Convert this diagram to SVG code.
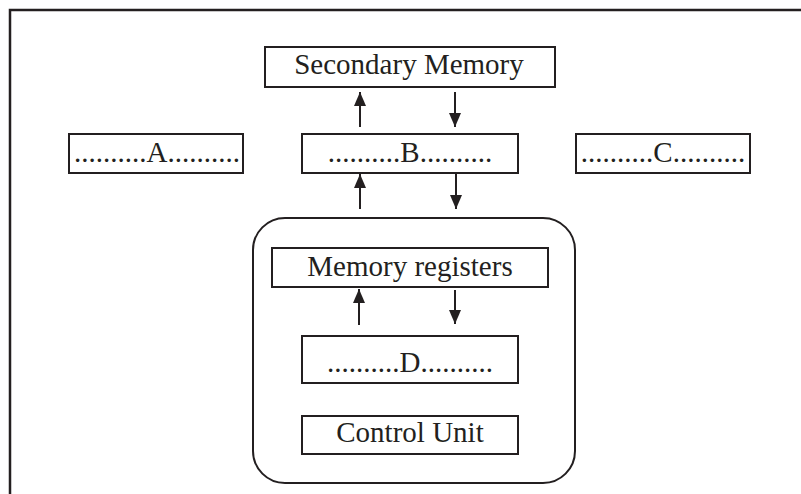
<svg xmlns="http://www.w3.org/2000/svg" width="801" height="494" viewBox="0 0 801 494">
<style>
.box{fill:#fff;stroke:#231f20;stroke-width:2}
.t{font-family:"Liberation Serif","Times New Roman",serif;font-size:29px;fill:#231f20;text-anchor:middle}
.c{stroke:#231f20;stroke-width:2;fill:none;marker-end:url(#ah)}
</style>
<defs>
<marker id="ah" markerUnits="userSpaceOnUse" markerWidth="14" markerHeight="12" viewBox="0 0 14 12" refX="14" refY="6" orient="auto">
<path d="M0,0 L14,6 L0,12 Z" fill="#231f20"/>
</marker>
</defs>
<rect width="801" height="494" fill="#fff"/>
<g id="frame">
<path d="M10,494 V10 H801" fill="none" stroke="#231f20" stroke-width="2.5"/>
</g>
<g id="cpu">
<rect class="box" x="253" y="218" width="322" height="265" rx="32" ry="32"/>
</g>
<g id="secondary">
<rect class="box" x="265" y="47" width="290" height="40"/>
<text class="t" x="409" y="74">Secondary Memory</text>
</g>
<g id="a">
<rect class="box" x="69" y="134" width="174" height="39"/>
<text class="t" x="157" y="162">..........A..........</text>
</g>
<g id="b">
<rect class="box" x="302" y="134" width="216" height="39"/>
<text class="t" x="410" y="162">..........B..........</text>
</g>
<g id="c">
<rect class="box" x="576" y="134" width="174" height="39"/>
<text class="t" x="663" y="162">..........C..........</text>
</g>
<g id="registers">
<rect class="box" x="272" y="248" width="276" height="39"/>
<text class="t" x="410" y="276">Memory registers</text>
</g>
<g id="d">
<rect class="box" x="302" y="336" width="216" height="47"/>
<text class="t" x="410" y="372">..........D..........</text>
</g>
<g id="control">
<rect class="box" x="302" y="416" width="216" height="38"/>
<text class="t" x="410" y="442">Control Unit</text>
</g>
<g id="connectors">
<line class="c" x1="360" y1="127" x2="360" y2="92"/>
<line class="c" x1="455" y1="92" x2="455" y2="127"/>
<line class="c" x1="360" y1="209" x2="360" y2="174"/>
<line class="c" x1="456" y1="174" x2="456" y2="209"/>
<line class="c" x1="359" y1="325" x2="359" y2="289"/>
<line class="c" x1="455" y1="290" x2="455" y2="324"/>
</g>
</svg>
